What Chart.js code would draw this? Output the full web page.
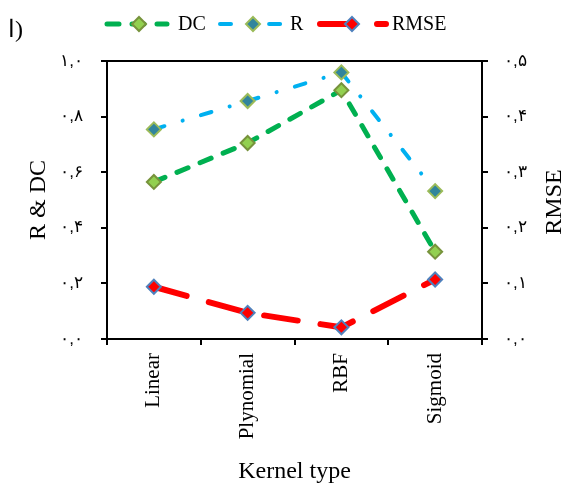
<!DOCTYPE html>
<html>
<head>
<meta charset="utf-8">
<script src="https://cdn.jsdelivr.net/npm/chart.js@4"></script>
<style>
  html, body { margin: 0; padding: 0; background: #fff; }
  #wrap { width: 570px; height: 486px; }
</style>
</head>
<body>
<div id="wrap"><canvas id="grafico" width="570" height="486"></canvas></div>
<script>
const kernels = ['Linear', 'Plynomial', 'RBF', 'Sigmoid'];
const valoresDC = [0.565, 0.705, 0.895, 0.314];
const valoresR = [0.754, 0.856, 0.959, 0.532];
const valoresRMSE = [0.094, 0.047, 0.021, 0.107];
const ticksIzq = [0, 0.2, 0.4, 0.6, 0.8, 1.0];
const ticksDer = [0, 0.1, 0.2, 0.3, 0.4, 0.5];

const serif = "'Liberation Serif', 'Times New Roman', serif";
const digitosFa = '۰۱۲۳۴۵۶۷۸۹';

function aPersa(v) {
    return v.toFixed(1).replace('.', ',').replace(/[0-9]/g, d => digitosFa[+d]);
}

// marco completo del area del grafico + titulo derecho girado como el izquierdo
const marco = {
    id: 'marco',
    afterDraw(chart) {
        const a = chart.chartArea;
        const ctx = chart.ctx;
        ctx.save();
        ctx.strokeStyle = '#000';
        ctx.lineWidth = 2;
        ctx.strokeRect(a.left, a.top, a.right - a.left, a.bottom - a.top);
        ctx.translate(555, (a.top + a.bottom) / 2 + 2);
        ctx.rotate(-Math.PI / 2);
        ctx.fillStyle = '#000';
        ctx.font = '24px ' + serif;
        ctx.textAlign = 'center';
        ctx.textBaseline = 'middle';
        ctx.fillText('RMSE', 0, 0);
        ctx.restore();
    }
};

// leyenda estilo excel: linea con marcador en medio
const leyenda = {
    id: 'leyenda',
    afterDraw(chart) {
        const ctx = chart.ctx;
        const y = 24;
        const items = [
            { x0: 107, x1: 167, m: 139, tx: 178 },
            { x0: 220, x1: 283, m: 253, tx: 290 },
            { x0: 320, x1: 386, m: 352, tx: 392 }
        ];
        chart.data.datasets.forEach((ds, i) => {
            const it = items[i];
            ctx.save();
            ctx.strokeStyle = ds.borderColor;
            ctx.lineWidth = ds.borderWidth;
            ctx.lineCap = 'round';
            ctx.setLineDash(ds.borderDash);
            ctx.beginPath();
            ctx.moveTo(it.x0, y);
            ctx.lineTo(it.x1, y);
            ctx.stroke();
            ctx.setLineDash([]);
            const r = 7;
            ctx.beginPath();
            ctx.moveTo(it.m, y - r);
            ctx.lineTo(it.m + r, y);
            ctx.lineTo(it.m, y + r);
            ctx.lineTo(it.m - r, y);
            ctx.closePath();
            ctx.fillStyle = ds.pointBackgroundColor;
            ctx.fill();
            ctx.lineWidth = 2;
            ctx.strokeStyle = ds.pointBorderColor;
            ctx.stroke();
            ctx.fillStyle = '#000';
            ctx.font = '20px ' + serif;
            ctx.textBaseline = 'middle';
            ctx.fillText(ds.label, it.tx, y + 1);
            ctx.restore();
        });
        ctx.save();
        ctx.font = '24px ' + serif;
        ctx.fillStyle = '#000';
        ctx.textBaseline = 'middle';
        ctx.fillText('ا)', 8, 31);
        ctx.restore();
    }
};

new Chart(document.getElementById('grafico'), {
    type: 'line',
    data: {
        labels: kernels,
        datasets: [{
            label: 'DC',
            data: valoresDC,
            yAxisID: 'y',
            borderColor: '#00B050',
            borderWidth: 5,
            borderDash: [12, 13],
            borderCapStyle: 'round',
            pointStyle: 'rectRot',
            pointRadius: 7,
            pointBorderWidth: 2,
            pointBackgroundColor: '#92D050',
            pointBorderColor: '#77933C',
            tension: 0
        }, {
            label: 'R',
            data: valoresR,
            yAxisID: 'y',
            borderColor: '#00B0F0',
            borderWidth: 4,
            borderDash: [11, 19, 0.1, 19],
            borderCapStyle: 'round',
            pointStyle: 'rectRot',
            pointRadius: 7,
            pointBorderWidth: 2,
            pointBackgroundColor: '#31859C',
            pointBorderColor: '#9BBB59',
            tension: 0
        }, {
            label: 'RMSE',
            data: valoresRMSE,
            yAxisID: 'y2',
            borderColor: '#FF0000',
            borderWidth: 6,
            borderDash: [34, 23],
            borderCapStyle: 'round',
            pointStyle: 'rectRot',
            pointRadius: 7,
            pointBorderWidth: 2,
            pointBackgroundColor: '#FF0000',
            pointBorderColor: '#4F81BD',
            tension: 0
        }]
    },
    options: {
        responsive: false,
        animation: false,
        layout: { padding: { top: 61, left: 0, right: 0, bottom: 0 } },
        plugins: {
            legend: { display: false },
            tooltip: { enabled: false }
        },
        scales: {
            x: {
                offset: true,
                afterFit: s => { s.height = 147; },
                border: { display: true, color: '#000', width: 2 },
                grid: { drawOnChartArea: false, offset: true, color: '#000', lineWidth: 2, tickLength: 6 },
                ticks: { color: '#000', font: { family: serif, size: 21 }, minRotation: 90, maxRotation: 90, padding: 8 },
                title: { display: true, text: 'Kernel type', color: '#000', font: { family: serif, size: 24 }, padding: 0 }
            },
            y: {
                position: 'left',
                min: 0,
                max: 1,
                afterFit: s => { s.width = 107; },
                afterBuildTicks: s => { s.ticks = ticksIzq.map(v => ({ value: v })); },
                border: { display: true, color: '#000', width: 2 },
                grid: { drawOnChartArea: false, color: '#000', lineWidth: 2, tickLength: 6 },
                ticks: { color: '#000', font: { size: 17 }, padding: 18, callback: v => aPersa(v) },
                title: { display: true, text: 'R & DC', color: '#000', font: { family: serif, size: 24 }, padding: { top: 24 } }
            },
            y2: {
                position: 'right',
                min: 0,
                max: 0.5,
                afterFit: s => { s.width = 88; },
                afterBuildTicks: s => { s.ticks = ticksDer.map(v => ({ value: v })); },
                border: { display: true, color: '#000', width: 2 },
                grid: { drawOnChartArea: false, color: '#000', lineWidth: 2, tickLength: 6 },
                ticks: { color: '#000', font: { size: 17 }, padding: 16, callback: v => aPersa(v) },
                title: { display: false }
            }
        }
    },
    plugins: [marco, leyenda]
});
</script>
</body>
</html>
